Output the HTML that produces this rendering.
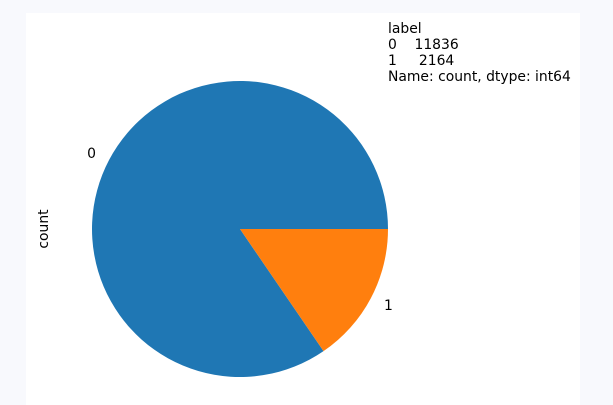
<!DOCTYPE html>
<html><head><meta charset="utf-8"><style>
html,body{margin:0;padding:0;background:#f8f9fd;width:613px;height:405px;overflow:hidden;font-family:"DejaVu Sans","Liberation Sans",sans-serif;}
#panel{position:absolute;left:26px;top:13px;width:554px;height:392px;background:#fff;}
svg{position:absolute;left:0;top:0;}
text{font-family:"DejaVu Sans","Liberation Sans",sans-serif;font-size:13.9px;fill:#000;}
</style></head><body>
<div id="panel"></div>
<svg id="chart" width="613" height="405">
<text x="388" y="33">label</text>
<text x="388" y="49" xml:space="preserve">0    11836</text>
<text x="388" y="65" xml:space="preserve">1     2164</text>
<text x="388" y="81">Name: count, dtype: int64</text>
<text transform="translate(48,229) rotate(-90)" text-anchor="middle">count</text>
</svg>
<script>
const categories = ["0","1"];
const values = [11836, 2164];
const colors = ["#1f77b4","#ff7f0e"];
const cx = 240, cy = 229, r = 148;
const svg = document.getElementById('chart');
const NS = "http://www.w3.org/2000/svg";
const total = values.reduce((a,b)=>a+b,0);
let start = 0;
values.forEach((v,i)=>{
  const ang = v/total*2*Math.PI;
  const a0 = start, a1 = start+ang;
  const x0 = cx + r*Math.cos(a0), y0 = cy - r*Math.sin(a0);
  const x1 = cx + r*Math.cos(a1), y1 = cy - r*Math.sin(a1);
  const large = ang > Math.PI ? 1 : 0;
  const p = document.createElementNS(NS,'path');
  p.setAttribute('d',`M${cx},${cy} L${x0},${y0} A${r},${r} 0 ${large} 0 ${x1},${y1} Z`);
  p.setAttribute('fill',colors[i]);
  
  
  svg.appendChild(p);
  const mid = (a0+a1)/2;
  const t = document.createElementNS(NS,'text');
  t.setAttribute('x', cx + 1.1*r*Math.cos(mid));
  t.setAttribute('y', cy - 1.1*r*Math.sin(mid) + 5);
  t.setAttribute('text-anchor', Math.cos(mid) >= 0 ? 'start' : 'end');
  t.textContent = categories[i];
  
  
  svg.appendChild(t);
  start = a1;
});
</script>
</body></html>
